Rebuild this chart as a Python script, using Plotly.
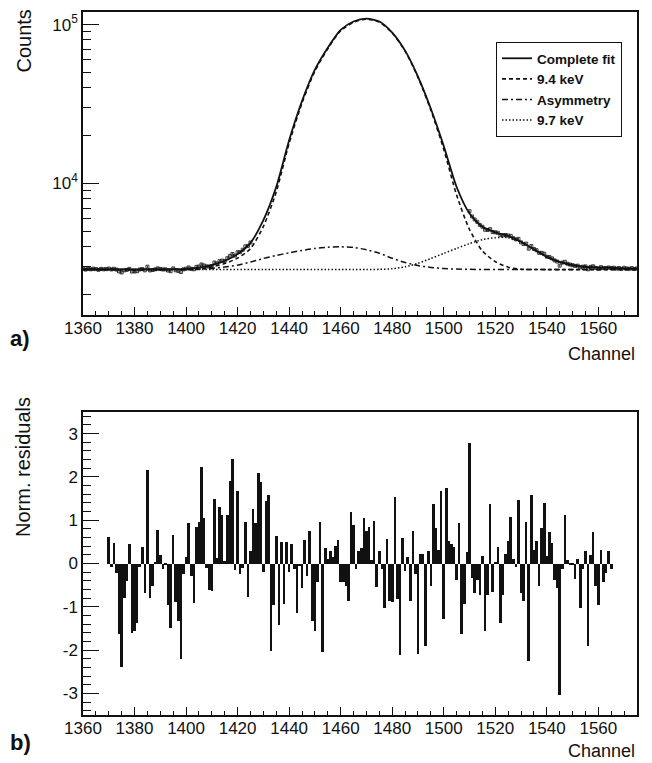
import numpy as np
import plotly.graph_objects as go

# ---------------- data ----------------
# fit curves sampled every 5 channels (read from picture)
curve_ch = list(range(1360, 1576, 5))
complete_fit = [2890, 2885, 2880, 2876, 2874, 2876, 2878, 2885, 2900, 2950,
                3060, 3250, 3590, 4230, 5870, 9520, 18700, 33000, 52000, 71500,
                92500, 104500, 109000, 104500, 89000, 68500, 47000, 29500, 17200, 9500,
                6470, 5330, 4920, 4670, 4300, 3850, 3450, 3210, 3060, 2990,
                2960, 2940, 2920, 2910]
peak_94 = [2870, 2870, 2870, 2870, 2870, 2870, 2870, 2871, 2874, 2890,
           2990, 3130, 3390, 3890, 5360, 8860, 17900, 32080, 50970, 70400,
           91380, 103400, 108050, 103700, 88450, 68070, 46560, 28910, 16400, 8450,
           5130, 3760, 3220, 2970, 2885, 2872, 2870, 2870, 2870, 2870,
           2870, 2870, 2870, 2870]
asymmetry = [2870, 2870, 2870, 2870, 2870, 2870, 2870, 2870, 2872, 2885,
             2920, 2980, 3060, 3200, 3370, 3520, 3660, 3790, 3900, 3970,
             3990, 3960, 3820, 3640, 3380, 3180, 3040, 2960, 2910, 2890,
             2880, 2875, 2870, 2870, 2870, 2870, 2870, 2870, 2870, 2870,
             2870, 2870, 2870, 2870]
peak_97 = [2870, 2870, 2870, 2870, 2870, 2870, 2870, 2870, 2870, 2870,
           2870, 2870, 2870, 2870, 2870, 2870, 2870, 2870, 2870, 2870,
           2870, 2870, 2872, 2880, 2905, 2990, 3140, 3370, 3630, 3900,
           4180, 4430, 4560, 4560, 4270, 3830, 3430, 3190, 3040, 2965,
           2930, 2905, 2890, 2880]

# measured counts (visible wings of the spectrum)
data_ch_left = list(range(1360, 1426))
data_left = [2920, 2870, 2900, 2880, 2910, 2890, 2860, 2900, 2880, 2890,
             2913, 2876, 2905, 2868, 2793, 2752, 2838, 2858, 2900, 2790,
             2793, 2802, 2872, 2893, 2838, 2992, 2835, 2852, 2880, 2922,
             2891, 2874, 2881, 2831, 2803, 2921, 2838, 2815, 2770, 2880,
             2908, 2960, 2905, 2882, 2985, 3000, 3090, 3045, 3005, 3000,
             3025, 3180, 3140, 3245, 3270, 3253, 3385, 3500, 3600, 3510,
             3690, 3695, 3825, 4020, 4045, 4250]
data_ch_right = list(range(1510, 1576))
data_right = [6690, 6195, 5935, 5730, 5485, 5340, 5115, 5090, 5160, 4945,
              4925, 4895, 4725, 4720, 4735, 4705, 4675, 4527, 4445, 4477,
              4255, 4153, 4181, 3887, 4039, 3869, 3802, 3658, 3659, 3612,
              3460, 3442, 3377, 3278, 3223, 3038, 3173, 3213, 3124, 3088,
              3059, 3026, 3036, 2959, 2993, 3005, 2880, 2988, 3011, 2938,
              2908, 2973, 2929, 2936, 2959, 2933, 2950, 2910, 2935, 2900,
              2945, 2915, 2905, 2930, 2895, 2920]

# normalised residuals, channels 1370..1565
res_ch = list(range(1370, 1566))
residuals = [
    0.61, -0.08, 0.47, -0.22, -1.62, -2.38, -0.79, -0.40, 0.44, -1.61,   # 1370
    -1.55, -1.38, -0.08, 0.38, -0.68, 2.15, -0.79, -0.52, 0.02, 0.77,     # 1380
    0.19, -0.12, -0.02, -0.96, -1.50, 0.65, -0.88, -1.33, -2.20, -0.24,   # 1390
    0.15, 0.93, -0.28, -0.91, 0.84, 0.96, 2.22, 1.06, -0.10, -0.62,       # 1400
    -0.63, 1.50, 0.12, 1.30, 1.12, 0.05, 1.12, 1.90, 2.41, -0.15,         # 1410
    1.67, -0.24, -0.10, 0.95, -0.77, 0.28, 1.25, 0.93, 2.08, 1.88,        # 1420
    -0.19, 1.44, 1.58, -2.02, -0.95, 0.63, -1.42, 0.50, -0.93, 0.50,      # 1430
    -0.19, 0.44, -0.12, -1.14, -0.05, -0.56, 0.54, -0.28, 0.76, -1.33,    # 1440
    -1.56, -0.42, 0.95, -2.04, 0.35, 0.10, 0.30, 0.15, 0.40, 0.54,        # 1450
    -0.42, -0.42, -0.52, -0.86, 1.18, 0.88, -0.12, 0.30, 0.35, 1.04,      # 1460
    0.76, 0.84, 0.08, 0.98, -0.54, 0.28, -0.12, -1.03, 0.56, -0.86,       # 1470
    -0.88, 1.53, -0.81, -2.12, 0.59, -0.17, 0.15, -0.86, 0.75, -0.25,     # 1480
    -2.08, 0.23, 0.21, -1.90, 0.28, -0.52, 1.37, 0.81, 0.31, 1.68,        # 1490
    -1.29, 1.74, 0.52, 0.44, 0.39, -0.37, 0.93, -1.64, -0.93, 0.26,       # 1500
    2.79, -0.33, -0.69, -0.38, -0.72, 0.17, -1.56, -0.72, 1.38, -0.65,    # 1510
    0.04, 0.38, -1.38, -0.72, 0.22, 0.52, 1.07, 0.10, -0.08, 1.46,        # 1520
    -0.68, -0.87, 0.95, -2.25, 1.58, 0.31, 0.52, -0.52, 0.82, 1.39,       # 1530
    0.17, 0.72, 0.47, -0.38, -0.56, -3.03, -0.12, 1.12, 0.08, -0.04,      # 1540
    -0.02, -0.35, 0.10, -1.02, -0.13, 0.28, -1.90, 0.19, 0.72, -0.52,     # 1550
    -0.96, 0.31, -0.42, -0.22, 0.28, -0.13,                               # 1560
]

# axis ticks
x_major = list(range(1360, 1561, 20))
y_log_major = [1e4, 1e5]
y_log_major_text = ["10<sup>4</sup>", "10<sup>5</sup>"]
y_log_minor = [2000, 3000, 4000, 5000, 6000, 7000, 8000, 9000,
               20000, 30000, 40000, 50000, 60000, 70000, 80000, 90000]
res_major = [-3, -2, -1, 0, 1, 2, 3]
res_major_text = ["-3", "-2", "-1", "0", "1", "2", "3"]

# ---------------- figure ----------------
# The page body keeps the browser's default 8px margin, so the figure is drawn
# 8px right/down of the window corner; size and positions compensate for it.
OFF = 8
W, H = 652 - OFF, 763 - OFF
FONT = "Liberation Sans, Arial, Helvetica, sans-serif"
BLACK = "#111111"

def px_x(p):
    return (p - OFF) / W

def px_y(p):
    return 1 - (p - OFF) / H

fig = go.Figure()

data_ch = data_ch_left + data_ch_right
data_val = data_left + data_right
fig.add_trace(go.Scatter(
    x=data_ch, y=data_val, mode="markers", showlegend=False,
    marker=dict(symbol="square-open", size=3, color=BLACK, line=dict(width=0.8, color=BLACK)),
    error_y=dict(type="data", array=list(np.sqrt(data_val)), color=BLACK, thickness=0.8, width=0),
    xaxis="x", yaxis="y"))

fig.add_trace(go.Scatter(
    x=curve_ch, y=peak_97, mode="lines", name="<b>9.7 keV</b>", legendrank=4,
    line=dict(color=BLACK, width=1.5, dash="1.5px,2px", shape="spline", smoothing=0.7),
    xaxis="x", yaxis="y"))
fig.add_trace(go.Scatter(
    x=curve_ch, y=asymmetry, mode="lines", name="<b>Asymmetry</b>", legendrank=3,
    line=dict(color=BLACK, width=1.5, dash="6px,3px,2px,3px", shape="spline", smoothing=0.7),
    xaxis="x", yaxis="y"))
fig.add_trace(go.Scatter(
    x=curve_ch, y=peak_94, mode="lines", name="<b>9.4 keV</b>", legendrank=2,
    line=dict(color=BLACK, width=1.6, dash="4px,3px", shape="spline", smoothing=0.7),
    xaxis="x", yaxis="y"))
fig.add_trace(go.Scatter(
    x=curve_ch, y=complete_fit, mode="lines", name="<b>Complete fit</b>", legendrank=1,
    line=dict(color=BLACK, width=1.8, shape="spline", smoothing=0.7),
    xaxis="x", yaxis="y"))

fig.add_trace(go.Bar(
    x=res_ch, y=residuals, width=1, showlegend=False,
    marker=dict(color=BLACK, line=dict(width=0)),
    xaxis="x2", yaxis="y2"))

x_dom = [px_x(83), px_x(637)]
common_x = dict(
    range=[1360, 1575], domain=x_dom, tickmode="array", tickvals=x_major,
    ticks="inside", ticklen=8, tickwidth=1, tickcolor=BLACK,
    minor=dict(dtick=5, tick0=1360, ticks="inside", ticklen=4, tickcolor=BLACK, showgrid=False),
    showline=True, mirror=True, linecolor=BLACK, linewidth=1.5,
    showgrid=False, zeroline=False, automargin=False, ticklabelstandoff=-3,
    tickfont=dict(family=FONT, size=17, color=BLACK),
)

fig.update_layout(
    template="none",
    width=W, height=H,
    margin=dict(l=0, r=0, t=0, b=0, pad=0),
    paper_bgcolor="white", plot_bgcolor="white",
    bargap=0,
    font=dict(family=FONT, color=BLACK),
    xaxis=dict(common_x, anchor="y"),
    xaxis2=dict(common_x, anchor="y2"),
    yaxis=dict(
        type="log", range=[3.172, 5.079], domain=[px_y(315), px_y(12)],
        tickmode="array", tickvals=y_log_major, ticktext=y_log_major_text,
        ticks="inside", ticklen=16, tickcolor=BLACK,
        minor=dict(tickmode="array", tickvals=y_log_minor, ticks="inside", ticklen=8,
                   tickcolor=BLACK, showgrid=False),
        showline=True, mirror=True, linecolor=BLACK, linewidth=1.5,
        showgrid=False, zeroline=False, anchor="x", automargin=False,
        tickfont=dict(family=FONT, size=17, color=BLACK),
    ),
    yaxis2=dict(
        range=[-3.5, 3.5], domain=[px_y(715), px_y(412)],
        tickmode="array", tickvals=res_major, ticktext=res_major_text,
        ticks="inside", ticklen=16, tickcolor=BLACK,
        minor=dict(dtick=0.2, tick0=0, ticks="inside", ticklen=8, tickcolor=BLACK, showgrid=False),
        showline=True, mirror=True, linecolor=BLACK, linewidth=1.5,
        showgrid=False, zeroline=False, anchor="x2", automargin=False,
        tickfont=dict(family=FONT, size=17, color=BLACK),
    ),
    legend=dict(
        x=px_x(496), y=px_y(42), xanchor="left", yanchor="top",
        bordercolor=BLACK, borderwidth=1, bgcolor="white",
        font=dict(family=FONT, size=13.5, color=BLACK),
        tracegroupgap=0, itemwidth=30,
    ),
    annotations=[
        dict(text="Counts", x=px_x(23), y=px_y(8), xref="paper", yref="paper",
             xanchor="center", yanchor="top", textangle=-90, showarrow=False,
             font=dict(family=FONT, size=20, color=BLACK)),
        dict(text="Norm. residuals", x=px_x(23), y=px_y(395), xref="paper", yref="paper",
             xanchor="center", yanchor="top", textangle=-90, showarrow=False,
             font=dict(family=FONT, size=20, color=BLACK)),
        dict(text="Channel", x=px_x(637), y=px_y(366), xref="paper", yref="paper",
             xanchor="right", yanchor="bottom", showarrow=False,
             font=dict(family=FONT, size=18, color=BLACK)),
        dict(text="Channel", x=px_x(637), y=px_y(763), xref="paper", yref="paper",
             xanchor="right", yanchor="bottom", showarrow=False,
             font=dict(family=FONT, size=18, color=BLACK)),
        dict(text="<b>a)</b>", x=px_x(8), y=px_y(338), xref="paper", yref="paper",
             xanchor="left", yanchor="middle", showarrow=False,
             font=dict(family=FONT, size=22, color=BLACK)),
        dict(text="<b>b)</b>", x=px_x(8), y=px_y(742), xref="paper", yref="paper",
             xanchor="left", yanchor="middle", showarrow=False,
             font=dict(family=FONT, size=22, color=BLACK)),
    ],
)

fig.write_html("out.html")
